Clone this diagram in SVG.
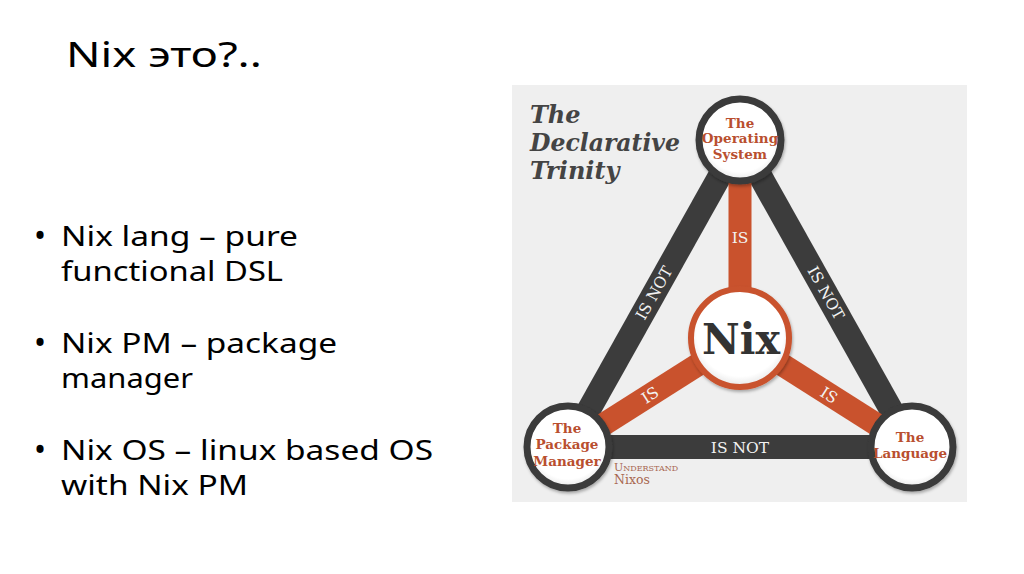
<svg xmlns="http://www.w3.org/2000/svg" width="1024" height="574" viewBox="0 0 1024 574">
  <defs>
    <style>
      .hand { font-family: "Noto Sans", "DejaVu Sans", sans-serif; fill: #000; }
      .bar-dark { stroke: #3c3c3c; stroke-width: 24; stroke-linecap: butt; fill: none; }
      .bar-or { stroke: #c9522d; stroke-width: 23; stroke-linecap: butt; fill: none; }
      .node { fill: url(#nodeFill); stroke: #3a3a3a; stroke-width: 7; }
      .nix { fill: url(#nodeFill); stroke: #c9522d; stroke-width: 6; }
      .lbl { font-family: "DejaVu Serif", "Liberation Serif", serif; font-weight: bold; font-size: 13.5px; fill: #b94f2f; text-anchor: middle; }
      .bartxt { font-family: "DejaVu Serif", "Liberation Serif", serif; font-size: 15.5px; fill: #f2f2f2; text-anchor: middle; }
    </style>
    <radialGradient id="nodeFill" cx="50%" cy="45%" r="55%">
      <stop offset="0.8" stop-color="#ffffff"/>
      <stop offset="1" stop-color="#e6e6e6"/>
    </radialGradient>
    <filter id="shadow" x="-20%" y="-20%" width="140%" height="140%">
      <feDropShadow dx="1" dy="2" stdDeviation="1.5" flood-color="#000" flood-opacity="0.3"/>
    </filter>
  </defs>

  <rect x="0" y="0" width="1024" height="574" fill="#ffffff"/>

  <!-- Slide text -->
  <g id="title">
    <text class="hand" x="66" y="67" font-size="34" textLength="196" lengthAdjust="spacingAndGlyphs">Nix это?..</text>
  </g>
  <g id="bullets">
    <text class="hand" x="40" y="247" font-size="32" text-anchor="middle">•</text>
    <text class="hand" x="61" y="246" font-size="28" textLength="237" lengthAdjust="spacingAndGlyphs">Nix lang – pure</text>
    <text class="hand" x="61" y="281" font-size="28" textLength="222" lengthAdjust="spacingAndGlyphs">functional DSL</text>
    <text class="hand" x="40" y="354" font-size="32" text-anchor="middle">•</text>
    <text class="hand" x="61" y="353" font-size="28" textLength="276" lengthAdjust="spacingAndGlyphs">Nix PM – package</text>
    <text class="hand" x="61" y="388" font-size="28" textLength="132" lengthAdjust="spacingAndGlyphs">manager</text>
    <text class="hand" x="40" y="461" font-size="32" text-anchor="middle">•</text>
    <text class="hand" x="61" y="460" font-size="28" textLength="372" lengthAdjust="spacingAndGlyphs">Nix OS – linux based OS</text>
    <text class="hand" x="61" y="495" font-size="28" textLength="187" lengthAdjust="spacingAndGlyphs">with Nix PM</text>
  </g>

  <!-- Picture panel -->
  <rect x="512" y="85" width="455" height="417" fill="#efefef"/>

  <g id="heading">
    <text font-family="DejaVu Serif, Liberation Serif, serif" font-weight="bold" font-style="italic" font-size="24" fill="#444444">
      <tspan x="530" y="123">The</tspan>
      <tspan x="530" y="151" textLength="150" lengthAdjust="spacingAndGlyphs">Declarative</tspan>
      <tspan x="530" y="179">Trinity</tspan>
    </text>
  </g>

  <!-- Connectors -->
  <g id="connectors">
    <line class="bar-dark" x1="568" y1="447" x2="740" y2="140"/>
    <line class="bar-dark" x1="740" y1="140" x2="912" y2="447"/>
    <line class="bar-dark" x1="568" y1="447" x2="912" y2="447"/>
    <line class="bar-or" x1="740" y1="338" x2="740" y2="140"/>
    <line class="bar-or" x1="740" y1="338" x2="568" y2="447"/>
    <line class="bar-or" x1="740" y1="338" x2="912" y2="447"/>
    <text class="bartxt" transform="translate(654,293) rotate(-60.7)" y="5.5">IS NOT</text>
    <text class="bartxt" transform="translate(826,293) rotate(60.7)" y="5.5">IS NOT</text>
    <text class="bartxt" x="740" y="452.5">IS NOT</text>
    <text class="bartxt" x="740" y="243">IS</text>
    <text class="bartxt" transform="translate(650,395) rotate(-32.4)" y="5.5">IS</text>
    <text class="bartxt" transform="translate(829,395) rotate(32.4)" y="5.5">IS</text>
  </g>

  <!-- Nodes -->
  <g id="node-os">
    <circle class="node" cx="740" cy="140" r="41" filter="url(#shadow)"/>
    <text class="lbl"><tspan x="740" y="128">The</tspan><tspan x="740" y="143">Operating</tspan><tspan x="740" y="159">System</tspan></text>
  </g>
  <g id="node-pm">
    <circle class="node" cx="568" cy="447" r="41" filter="url(#shadow)"/>
    <text class="lbl"><tspan x="567" y="433">The</tspan><tspan x="567" y="449">Package</tspan><tspan x="567" y="466">Manager</tspan></text>
  </g>
  <g id="node-lang">
    <circle class="node" cx="912" cy="447" r="41" filter="url(#shadow)"/>
    <text class="lbl"><tspan x="910" y="442">The</tspan><tspan x="910" y="458">Language</tspan></text>
  </g>
  <g id="node-nix">
    <circle class="nix" cx="740" cy="338" r="49" filter="url(#shadow)"/>
    <text x="741" y="354" font-family="DejaVu Serif, Liberation Serif, serif" font-weight="bold" font-size="42" fill="#333333" text-anchor="middle" textLength="78" lengthAdjust="spacingAndGlyphs">Nix</text>
  </g>

  <g id="credit">
    <text font-family="DejaVu Serif, Liberation Serif, serif" fill="#a8674f">
      <tspan x="614" y="471" font-size="11" font-variant="small-caps">Understand</tspan>
      <tspan x="614" y="484" font-size="12.5">Nixos</tspan>
    </text>
  </g>
</svg>
